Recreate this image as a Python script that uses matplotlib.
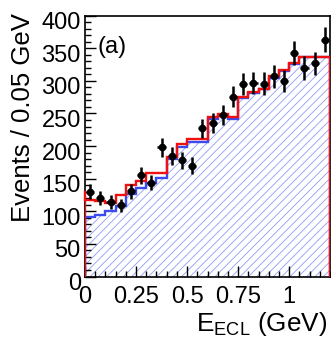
import numpy as np
import matplotlib
matplotlib.use("Agg")
import matplotlib.pyplot as plt
from matplotlib.transforms import ScaledTranslation

plt.rcParams['font.family'] = ['Liberation Sans', 'DejaVu Sans']
plt.rcParams['mathtext.fontset'] = 'custom'
plt.rcParams['mathtext.rm'] = 'Liberation Sans'
plt.rcParams['mathtext.it'] = 'Liberation Sans:italic'
plt.rcParams['hatch.linewidth'] = 0.6

# Bin edges (GeV), 0.05 GeV bins
bin_lo = 0.0
bin_hi = 1.2
bin_w = 0.05

# Data (events per bin)
data = [130, 120, 114, 109, 131, 155, 144, 198, 185, 178, 170, 227,
        236, 248, 276, 295, 297, 296, 307, 300, 343, 320, 327, 363]
# Total fit (red)
total = [117, 116, 113, 125, 141, 146, 159, 158, 184, 203, 211, 211,
         245, 249, 244, 276, 283, 288, 307, 317, 327, 337, 337, 337]
total_start = 130
# Background (blue hatched)
bkg = [91, 94, 100, 108, 126, 135, 144, 151, 180, 199, 207, 207,
       241, 246, 241, 274, 281, 287, 305, 315, 326, 336, 336, 336]

xticks = [0, 0.25, 0.5, 0.75, 1]
xticklabels = ["0", "0.25", "0.5", "0.75", "1"]
yticks = [0, 50, 100, 150, 200, 250, 300, 350, 400]

edges = np.arange(len(data) + 1) * bin_w + bin_lo
centers = 0.5 * (edges[:-1] + edges[1:])
data = np.array(data, dtype=float)

fig = plt.figure(figsize=(3.31, 3.41), dpi=100)
ax = fig.add_axes([85/331, 1 - 276.5/341, 245/331, (276.5 - 15.7)/341])

blue = '#3a4cf0'
hatch_blue = '#8f9cf5'
red = '#f01010'

ax.stairs(bkg, edges, baseline=0, fill=True, facecolor='none',
          edgecolor=hatch_blue, hatch='////', linewidth=0, zorder=1)
ax.stairs(bkg, edges, baseline=0, fill=False, color=blue, linewidth=1.7, zorder=2)
ax.stairs(total, edges, baseline=0, fill=False, color=red, linewidth=1.7, zorder=3)
ax.plot([edges[0], edges[0]], [total_start, total[0]], color=red, linewidth=1.7,
        zorder=3, clip_on=False)

ax.errorbar(centers, data, yerr=np.sqrt(data), xerr=0.02, fmt='o', color='black',
            markersize=4.5, elinewidth=1.8, capsize=0, zorder=5)

ax.set_xlim(bin_lo, bin_hi)
ax.set_ylim(0, 400)
ax.set_xticks(xticks)
ax.set_xticklabels(xticklabels)
ax.set_yticks(yticks)
ax.set_xticks(np.arange(0, 1.2001, 0.05), minor=True)
ax.set_yticks(np.arange(0, 401, 10), minor=True)
ax.tick_params(which='both', direction='in', top=False, right=False, labelsize=17, width=1)
ax.tick_params(which='major', length=8)
ax.tick_params(which='minor', length=4)
ax.tick_params(axis='x', which='major', pad=7)
ax.tick_params(axis='y', which='major', pad=3)
for s in ax.spines.values():
    s.set_linewidth(1.2)

shift = ScaledTranslation(0, -5/100, fig.dpi_scale_trans)
for lab in ax.get_yticklabels():
    lab.set_transform(lab.get_transform() + shift)

ax.set_ylabel("Events / 0.05 GeV", fontsize=18.5, ha='right')
ax.yaxis.set_label_coords(-0.205, 1.01)
ax.set_xlabel(r"E$_{\rm ECL}$ (GeV)", fontsize=18.8, ha='right')
ax.xaxis.set_label_coords(0.99, -0.13)
ax.text(0.06, 352, "(a)", fontsize=17, ha='left', va='center')

fig.savefig("out.png", dpi=100)
